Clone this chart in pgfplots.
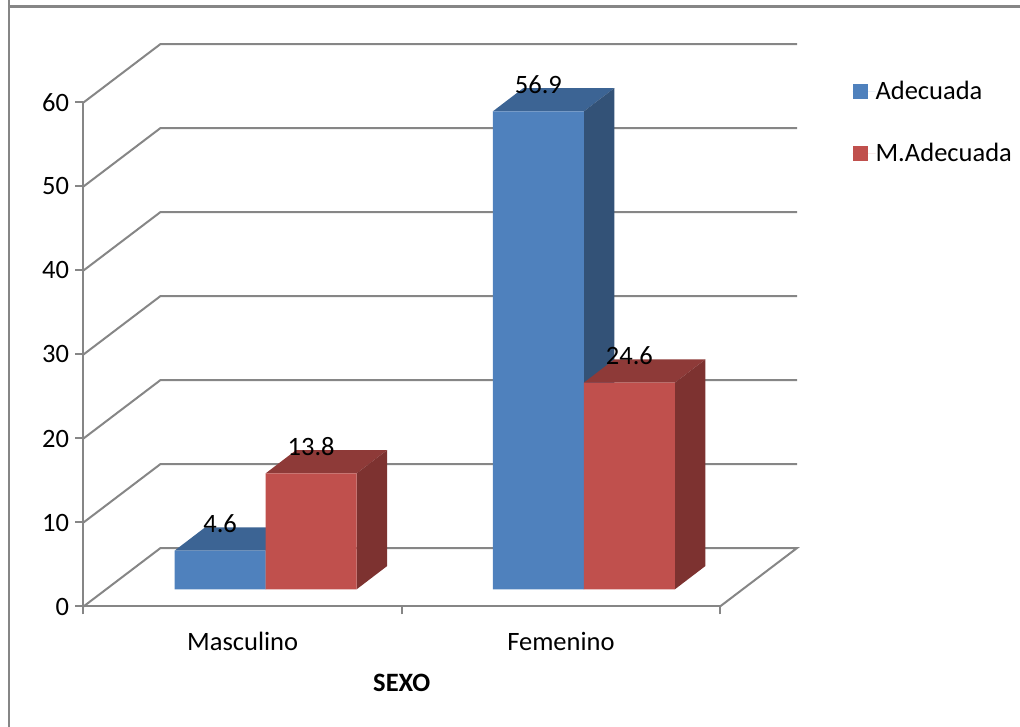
\documentclass[border=0pt]{standalone}
\usepackage{fontspec}
\setmainfont{Carlito}
\usepackage{pgfplots}
\pgfplotsset{compat=1.18}
\definecolor{gridc}{HTML}{868686}
\definecolor{blueF}{HTML}{4F81BD}
\definecolor{blueT}{HTML}{3C6494}
\definecolor{blueS}{HTML}{335277}
\definecolor{redF}{HTML}{C0504D}
\definecolor{redT}{HTML}{8E3A38}
\definecolor{redS}{HTML}{7D3230}
\newcommand{\bigf}{\fontsize{26.5}{30}\selectfont}
\begin{document}
\begin{tikzpicture}[x=1pt,y=1pt]
\path[use as bounding box] (0,0) rectangle (1020,727);
\draw[gridc,line width=2.4pt] (9,727) -- (9,0);
\draw[gridc,line width=2.4pt] (9,720.5) -- (1020,720.5);
% walls, floor and value axis
\begin{axis}[
  at={(83.5pt,120.5pt)}, anchor=south west,
  scale only axis, width=636.5pt, height=504pt,
  xmin=0, xmax=2, ymin=0, ymax=60, clip=false,
  axis x line*=bottom, axis y line*=left,
  axis line style={gridc,line width=2pt},
  tick style={gridc,line width=2pt},
  tick align=outside, major tick length=8pt,
  xtick={0,1,2}, x tick label as interval=true,
  xticklabels={Masculino,Femenino},
  ytick={0,10,20,30,40,50,60},
  tick label style={font=\bigf},
  /pgf/number format/assume math mode=true,
  yticklabel style={xshift=-3pt},
  xticklabel style={yshift=-14pt},
  xlabel={\textbf{SEXO}},
  xlabel style={font=\bigf, yshift=-17pt},
]
\addplot[gridc,line width=2pt] coordinates {(0,0) (0.242,6.96) (2.242,6.96) (2,0)};
\addplot[gridc,line width=2pt] coordinates {(0,10) (0.242,16.96) (2.242,16.96)};
\addplot[gridc,line width=2pt] coordinates {(0,20) (0.242,26.96) (2.242,26.96)};
\addplot[gridc,line width=2pt] coordinates {(0,30) (0.242,36.96) (2.242,36.96)};
\addplot[gridc,line width=2pt] coordinates {(0,40) (0.242,46.96) (2.242,46.96)};
\addplot[gridc,line width=2pt] coordinates {(0,50) (0.242,56.96) (2.242,56.96)};
\addplot[gridc,line width=2pt] coordinates {(0,60) (0.242,66.96) (2.242,66.96)};
\end{axis}
% bars, set back from the front of the floor
\begin{axis}[
  at={(106.5pt,137.7pt)}, anchor=south west,
  scale only axis, width=636.5pt, height=504pt,
  xmin=0, xmax=2, ymin=0, ymax=60, clip=false,
  hide axis,
  legend image code/.code={\fill[#1] (0pt,-7.5pt) rectangle (15pt,7.5pt); \path (0pt,0pt) -- (23pt,0pt);},
  legend style={at={(axis cs:2.3435,60.5)}, anchor=north west, draw=none, fill=none,
    font=\bigf, row sep=42pt, inner sep=0pt,
    nodes={inner sep=0pt, anchor=west}},
  legend cell align=left,
]
\addplot[fill=blueT,draw=none,forget plot] coordinates {(0.214,4.6) (0.5,4.6) (0.5958,7.37) (0.3098,7.37)} -- cycle;
\addplot[fill=blueS,draw=none,forget plot] coordinates {(0.5,0) (0.5958,2.77) (0.5958,7.37) (0.5,4.6)} -- cycle;
\addplot[fill=blueT,draw=none,forget plot] coordinates {(1.214,56.9) (1.5,56.9) (1.5958,59.67) (1.3098,59.67)} -- cycle;
\addplot[fill=blueS,draw=none,forget plot] coordinates {(1.5,0) (1.5958,2.77) (1.5958,59.67) (1.5,56.9)} -- cycle;
\addplot[ybar,bar width=91pt,bar shift=-45.5pt,fill=blueF,draw=none,
  nodes near coords,
  every node near coord/.append style={font=\bigf, anchor=center, xshift=-45.5pt, yshift=26.5pt,
    text=black, /pgf/number format/assume math mode=true,
    /pgf/number format/fixed, /pgf/number format/precision=1}]
  coordinates {(0.5,4.6) (1.5,56.9)};
\addlegendentry{Adecuada}
\addplot[fill=redT,draw=none,forget plot] coordinates {(0.5,13.8) (0.786,13.8) (0.8818,16.57) (0.5958,16.57)} -- cycle;
\addplot[fill=redS,draw=none,forget plot] coordinates {(0.786,0) (0.8818,2.77) (0.8818,16.57) (0.786,13.8)} -- cycle;
\addplot[fill=redT,draw=none,forget plot] coordinates {(1.5,24.6) (1.786,24.6) (1.8818,27.37) (1.5958,27.37)} -- cycle;
\addplot[fill=redS,draw=none,forget plot] coordinates {(1.786,0) (1.8818,2.77) (1.8818,27.37) (1.786,24.6)} -- cycle;
\addplot[ybar,bar width=91pt,bar shift=45.5pt,fill=redF,draw=none,
  nodes near coords,
  every node near coord/.append style={font=\bigf, anchor=center, xshift=45.5pt, yshift=26.5pt,
    text=black, /pgf/number format/assume math mode=true,
    /pgf/number format/fixed, /pgf/number format/precision=1}]
  coordinates {(0.5,13.8) (1.5,24.6)};
\addlegendentry{M.Adecuada}
\end{axis}
\end{tikzpicture}
\end{document}
